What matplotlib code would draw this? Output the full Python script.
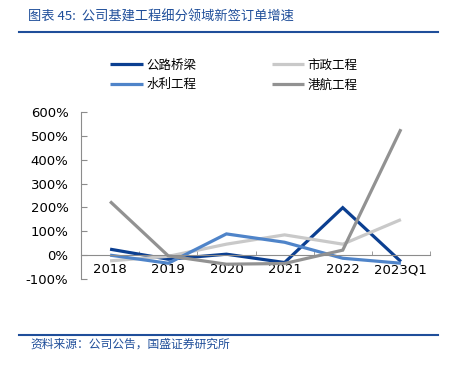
import numpy as np
import matplotlib.pyplot as plt
from matplotlib.ticker import FuncFormatter, FixedLocator

CJK = ["Noto Sans CJK SC", "DejaVu Sans"]

categories = ["2018", "2019", "2020", "2021", "2022", "2023Q1"]
highway_bridge = [25, -17, 4, -31, 199, -27]      # 公路桥梁
municipal = [-24, -5, 46, 85, 46, 149]            # 市政工程
water = [0, -34, 89, 54, -13, -34]                # 水利工程
port = [225, -3, -38, -35, 21, 528]               # 港航工程

series_names = ["公路桥梁", "市政工程", "水利工程", "港航工程"]
series_values = [highway_bridge, municipal, water, port]
series_colors = ["#0B3F91", "#C9C9C9", "#4F84C9", "#929292"]

title_text = "图表 45:  公司基建工程细分领域新签订单增速"
source_text = "资料来源：公司公告，国盛证券研究所"
blue = "#1F4E9A"

fig = plt.figure(figsize=(4.54, 3.72), dpi=100)
ax = fig.add_axes([81 / 454, 1 - 279 / 372, (430 - 81) / 454, (279 - 112) / 372])

x = np.arange(len(categories))
lines = {}
for name, vals, col in zip(series_names, series_values, series_colors):
    (ln,) = ax.plot(x, vals, color=col, lw=2.3, solid_joinstyle="miter",
                    solid_capstyle="butt", label=name)
    lines[name] = ln

ax.set_xlim(-0.5, len(categories) - 0.5)
ax.set_ylim(-100, 600)
ax.set_yticks(np.arange(-100, 601, 100))
ax.yaxis.set_major_formatter(FuncFormatter(lambda v, p: f"{v:.0f}%"))

for s in ["top", "right"]:
    ax.spines[s].set_visible(False)
ax.spines["left"].set_color("#8C8C8C")
ax.spines["bottom"].set_color("#8C8C8C")
ax.spines["bottom"].set_position(("data", 0))
ax.spines["left"].set_linewidth(0.8)
ax.spines["bottom"].set_linewidth(0.8)

ax.set_xticks(x)
ax.set_xticklabels(categories)
ax.xaxis.set_minor_locator(FixedLocator(np.arange(-0.5, len(categories), 1.0)))
ax.tick_params(axis="x", which="major", length=0, pad=6, labelsize=9.5)
ax.tick_params(axis="x", which="minor", direction="in", length=3, color="#8C8C8C")
ax.tick_params(axis="y", direction="in", length=4, color="#8C8C8C", pad=9, labelsize=9.5)
for lab in ax.get_xticklabels() + ax.get_yticklabels():
    lab.set_family(["DejaVu Sans"])

order = ["公路桥梁", "水利工程", "市政工程", "港航工程"]
fig.legend([lines[n] for n in order], order, ncol=2, loc="center",
           bbox_to_anchor=(234 / 454, 1 - 75 / 372), frameon=False,
           prop={"family": CJK, "size": 9}, handlelength=2.6,
           handletextpad=0.3, columnspacing=6.0, labelspacing=0.55)

fig.text(28 / 454, 1 - 17 / 372, title_text, color=blue, fontsize=9.5,
         family=CJK, ha="left", va="center")
fig.add_artist(plt.Line2D([19 / 454, 438 / 454], [1 - 32 / 372] * 2,
                          color=blue, lw=1.5, transform=fig.transFigure))
fig.add_artist(plt.Line2D([19 / 454, 438 / 454], [1 - 335 / 372] * 2,
                          color=blue, lw=1.5, transform=fig.transFigure))
fig.text(30 / 454, 1 - 344 / 372, source_text, color=blue, fontsize=8.5,
         family=CJK, ha="left", va="center")

fig.savefig("out.png", dpi=100)
